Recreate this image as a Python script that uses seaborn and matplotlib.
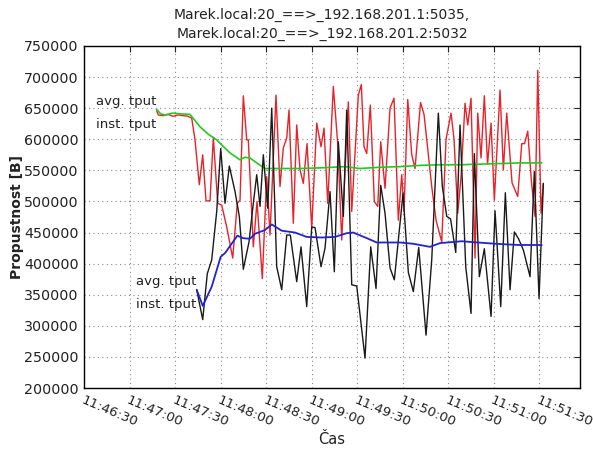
import numpy as np
import pandas as pd
import seaborn as sns
import matplotlib
matplotlib.use("Agg")
import matplotlib.pyplot as plt
import matplotlib.dates as mdates
import matplotlib.transforms as mtransforms

# ---- data (seconds after 11:46:30, bytes) ----
t_avg1 = [47.9, 50.5, 53.4, 58, 63.3, 69.9, 76.5, 82, 87.5, 92, 96.3, 102.8, 106, 109.4, 112.7, 119.3,
          129.2, 142.4, 155.6, 172.1, 182, 195.1, 208.3, 221.5, 234.7, 247.9, 261.1, 274.3, 287.5, 301.8]
v_avg1 = [648000, 641000, 639000, 642000, 641000, 640000, 620000, 608000, 599000, 588000, 578000, 567000,
          571000, 570000, 564000, 553000, 553000, 553000, 554000, 556000, 553000, 555000, 556000, 558000,
          559000, 559000, 560000, 561000, 562000, 562000]

t_avg2 = [74.3, 78.3, 84.2, 90.1, 93.0, 101.1, 104.8, 109.4, 112.7, 119.3, 123.8, 130.3, 139.1, 146.8,
          156.7, 165.5, 173.2, 177.5, 186.4, 193.0, 208.3, 216.9, 228.1, 234.7, 249.0, 259.8, 271.0, 286.1, 301.8]
v_avg2 = [358000, 332000, 363000, 411000, 417000, 445000, 441000, 440000, 448000, 454000, 463000, 453000,
          450000, 443000, 442000, 443000, 449000, 450000, 441000, 434000, 434000, 432000, 427000, 433000,
          436000, 434000, 432000, 430000, 430000]

x_inst1 = [156.7, 158.3, 163, 168, 173, 178, 183, 188, 191.7, 195, 199.3, 202.7, 206, 210, 213.3, 217.7,
           221.7, 226.7, 232.7, 237.3, 240, 243.3, 246.7, 248.3, 253.3, 257, 262.3, 266.7, 270, 276, 280,
           283.3, 286.7, 289, 293.3, 296.7, 300, 303.3, 307, 311.7, 316.7, 321, 324, 327.7, 333.3, 337.7,
           341.7, 348.3, 351.7, 358.3, 361.3, 364, 366.7, 370.3, 374.3, 377.7, 380.7, 385, 390, 394, 398.3,
           401.7, 404, 407.7, 411.7, 415, 420.5, 424, 431.7, 436, 441.7, 446, 451, 454, 457.7, 461, 465,
           467.7, 471, 475, 477.7, 481, 484.3, 487.5, 491, 494.3, 500, 503.3, 506.7, 512, 517.7, 521.7,
           524.5, 527.7, 531.5, 535, 537.7, 541, 543.3]
v_inst1 = [646000, 639000, 638000, 640000, 637000, 639000, 638000, 637000, 634000, 599000, 527000, 575000,
           501000, 501000, 603000, 497000, 494000, 459000, 409000, 497000, 502000, 670000, 599000, 599000,
           427000, 500000, 376000, 540000, 446000, 671000, 524000, 586000, 602000, 647000, 465000, 623000,
           551000, 529000, 593000, 457000, 626000, 588000, 618000, 497000, 685000, 593000, 438000, 660000,
           484000, 671000, 688000, 588000, 577000, 655000, 500000, 492000, 596000, 521000, 650000, 666000,
           470000, 543000, 484000, 664000, 575000, 553000, 659000, 640000, 524000, 470000, 435000, 600000,
           642000, 600000, 481000, 540000, 658000, 623000, 666000, 409000, 642000, 570000, 670000, 560000,
           626000, 502000, 679000, 551000, 642000, 530000, 508000, 593000, 593000, 613000, 530000, 476000,
           711000, 481000, 529000]

x_inst2 = [196.7, 202.7, 207.3, 211.7, 216.7, 220.7, 225, 229.3, 235, 239.3, 243.3, 249, 253.3, 256.7, 260,
           263.3, 267.7, 271.7, 276.7, 281.7, 286.7, 290.3, 296.7, 301, 306.7, 311.7, 315, 321, 325, 330,
           334.3, 338.3, 343.3, 346.7, 351.7, 356.7, 365, 370.7, 376, 380.7, 385, 390, 394.3, 403, 408.3,
           413.3, 418.7, 426, 431.7, 438.3, 442.3, 446.7, 450.5, 455.7, 460, 465.7, 471, 474.3, 479.3, 484.3,
           491, 495, 500.7, 505.3, 510, 514.3, 518.5, 523.3, 530, 534.3, 539, 543.3]
v_inst2 = [358000, 310000, 384000, 406000, 484000, 585000, 497000, 557000, 516000, 476000, 391000, 435000,
           497000, 543000, 492000, 575000, 489000, 650000, 395000, 358000, 446000, 446000, 371000, 427000,
           331000, 459000, 458000, 395000, 425000, 516000, 387000, 596000, 476000, 647000, 366000, 364000,
           248000, 427000, 360000, 526000, 481000, 393000, 374000, 513000, 386000, 355000, 426000, 285000,
           406000, 642000, 524000, 476000, 472000, 418000, 623000, 395000, 320000, 577000, 379000, 424000,
           315000, 485000, 331000, 514000, 358000, 451000, 440000, 422000, 379000, 548000, 344000, 529000]

title_lines = ["Marek.local:20_==>_192.168.201.1:5035,", "Marek.local:20_==>_192.168.201.2:5032"]
y_ticks = [200000, 250000, 300000, 350000, 400000, 450000, 500000, 550000, 600000, 650000, 700000, 750000]

# pixel-read positions of the inst series -> seconds
PX0, PX_PER_S = 84.0, 45.5 / 30.0
t_inst1 = [(x - PX0) / PX_PER_S for x in x_inst1]
t_inst2 = [(x - PX0) / PX_PER_S for x in x_inst2]

base = pd.Timestamp("2000-01-01 11:46:30")
def to_dt(ts):
    return base + pd.to_timedelta(np.asarray(ts, dtype=float), unit="s")

sns.set_style("white")
plt.rcParams["font.family"] = ["DejaVu Sans"]

fig = plt.figure(figsize=(5.93, 4.58), dpi=100)
ax = fig.add_axes([84 / 593, 1 - 388 / 458, (580 - 84) / 593, (388 - 46) / 458])

series = [
    (t_inst1, v_inst1, "#e8222a", 1.0),
    (t_avg1, v_avg1, "#22c822", 1.2),
    (t_inst2, v_inst2, "#1a1a1a", 1.0),
    (t_avg2, v_avg2, "#2323cc", 1.3),
]
for ts, vs, col, lw in series:
    sns.lineplot(x=to_dt(ts), y=vs, ax=ax, color=col, linewidth=lw, estimator=None, sort=False)

# labels at the start of each flow
for ts, vs in [(t_avg1, v_avg1), (t_avg2, v_avg2)]:
    xy = (mdates.date2num(to_dt([ts[0]])[0]), vs[0])
    ax.annotate("avg. tput", xy=xy, xytext=(0, 8), textcoords="offset pixels",
                ha="right", va="center", fontsize=9.5, color="#222222")
    ax.annotate("inst. tput", xy=xy, xytext=(0, -15), textcoords="offset pixels",
                ha="right", va="center", fontsize=9.5, color="#222222")

ax.set_xlim(to_dt([0])[0], to_dt([327])[0])
ax.set_ylim(200000, 750000)
ax.set_yticks(y_ticks)
ax.set_yticklabels([str(v) for v in y_ticks], fontsize=10.3, color="#222222")
ax.xaxis.set_major_locator(mdates.SecondLocator(bysecond=[0, 30]))
ax.xaxis.set_major_formatter(mdates.DateFormatter("%H:%M:%S"))
shift = mtransforms.ScaledTranslation(3 / 100, 0, fig.dpi_scale_trans)
for lab in ax.get_xticklabels():
    lab.set_rotation(-23)
    lab.set_ha("left")
    lab.set_rotation_mode("anchor")
    lab.set_fontsize(9.6)
    lab.set_color("#222222")
    lab.set_transform(lab.get_transform() + shift)

ax.grid(True, linestyle=(0, (1, 3)), color="#888888", linewidth=0.8)
ax.tick_params(direction="in", length=4, top=True, right=True, width=0.8, pad=4)
for s in ax.spines.values():
    s.set_color("black")
    s.set_linewidth(1.0)

ax.set_ylabel("Propustnost [B]", fontsize=10, fontweight="bold", color="#222222", labelpad=0)
ax.set_xlabel("Čas", fontsize=10.5, color="#222222", labelpad=2)
ax.set_title("\n".join(title_lines), fontsize=10, color="#222222", pad=6, linespacing=1.45, x=0.48)

fig.savefig("out.png", dpi=100)
